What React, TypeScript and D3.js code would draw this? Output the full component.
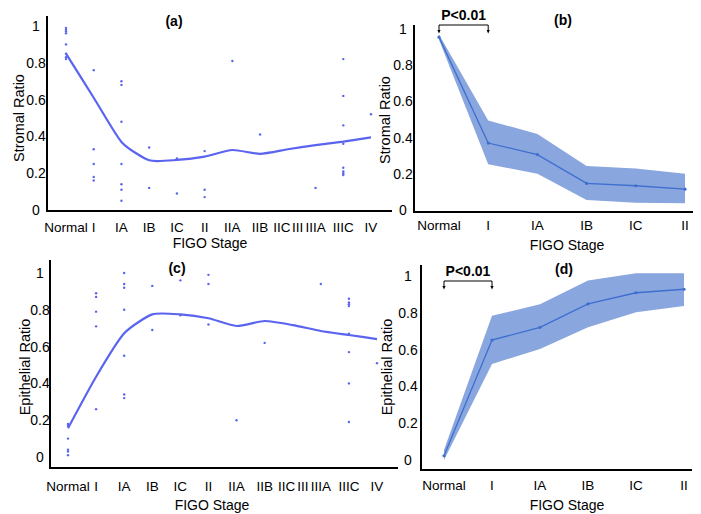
import React from "react";
import * as d3 from "d3";

// x slots used by the scatter panels (III has no samples, its label sits between IIC and IIIA)
const stageSlots = ["Normal", "I", "IA", "IB", "IC", "II", "IIA", "IIB", "IIC", "IIIA", "IIIC", "IV"];
const groupStages = ["Normal", "I", "IA", "IB", "IC", "II"];
const yTicks = [0, 0.2, 0.4, 0.6, 0.8, 1];

// (a) stromal ratio per sample
const stromalSamples: number[][] = [
  [0.99, 0.98, 0.97, 0.96, 0.9, 0.85, 0.83, 0.82],
  [0.76, 0.33, 0.25, 0.18, 0.16],
  [0.7, 0.68, 0.48, 0.25, 0.14, 0.11, 0.05],
  [0.34, 0.12],
  [0.28, 0.09],
  [0.32, 0.11, 0.07],
  [0.81],
  [0.41],
  [],
  [0.12],
  [0.82, 0.62, 0.46, 0.36, 0.23, 0.21, 0.2, 0.19],
  [0.52],
];
const stromalTrend = [0.85, 0.61, 0.37, 0.27, 0.272, 0.29, 0.326, 0.305, 0.33, 0.353, 0.372, 0.395];

// (c) epithelial ratio per sample
const epithelialSamples: number[][] = [
  [0.18, 0.17, 0.1, 0.04, 0.03, 0.01],
  [0.89, 0.87, 0.79, 0.71, 0.26],
  [1.0, 0.94, 0.92, 0.8, 0.55, 0.34, 0.32],
  [0.93, 0.69],
  [0.96, 0.77],
  [0.99, 0.94, 0.72],
  [0.2],
  [0.62],
  [],
  [0.94],
  [0.86, 0.84, 0.83, 0.82, 0.67, 0.57, 0.4, 0.19],
  [0.51],
];
const epithelialTrend = [0.156, 0.436, 0.672, 0.775, 0.775, 0.754, 0.712, 0.739, 0.717, 0.685, 0.663, 0.641];

// (b) / (d) group means with bands
const stromalMean = [0.955, 0.37, 0.306, 0.147, 0.134, 0.115];
const stromalUpper = [0.97, 0.495, 0.42, 0.243, 0.229, 0.2];
const stromalLower = [0.94, 0.253, 0.2, 0.055, 0.04, 0.037];

const epithelialMean = [0.023, 0.652, 0.721, 0.848, 0.909, 0.928];
const epithelialUpper = [0.054, 0.784, 0.846, 0.975, 1.015, 1.015];
const epithelialLower = [0.0, 0.522, 0.603, 0.721, 0.803, 0.837];

const FONT = "'Liberation Sans', Arial, sans-serif";
const scatterColor = "#5a64ef";
const bandColor = "#89a6de";
const meanColor = "#3e6fcf";

type Box = { axisX: number; axisTop: number; axisRight: number; baseY: number; tickX: number; y0: number; y1: number; x0: number; x1: number; tickLabelY: number; xLabelY: number; xLabelX: number; yLabelX: number; yLabelY: number; titleX: number; titleY: number };

const Axes = ({ b, yScale, title, yLabel }: { b: Box; yScale: d3.ScaleLinear<number, number>; title: string; yLabel: string }) => (
  <g>
    <line x1={b.axisX} x2={b.axisX} y1={b.axisTop} y2={b.baseY} stroke="#000" strokeWidth={2} />
    <line x1={b.axisX - 1} x2={b.axisRight} y1={b.baseY} y2={b.baseY} stroke="#000" strokeWidth={2} />
    {yTicks.map((t) => (
      <text key={t} x={b.tickX} y={yScale(t)} textAnchor="middle" dominantBaseline="central" fontSize={14}>
        {t === 0 || t === 1 ? String(t) : t.toFixed(1)}
      </text>
    ))}
    <text x={b.titleX} y={b.titleY} textAnchor="middle" dominantBaseline="central" fontSize={14} fontWeight="bold">{title}</text>
    <text transform={`translate(${b.yLabelX},${b.yLabelY}) rotate(-90)`} textAnchor="middle" dominantBaseline="central" fontSize={14.5}>{yLabel}</text>
    <text x={b.xLabelX} y={b.xLabelY} textAnchor="middle" dominantBaseline="central" fontSize={14}>FIGO Stage</text>
  </g>
);

const ScatterPanel = ({ b, samples, trend, title, yLabel }: { b: Box; samples: number[][]; trend: number[]; title: string; yLabel: string }) => {
  const x = d3.scalePoint().domain(stageSlots).range([b.x0, b.x1]);
  const y = d3.scaleLinear().domain([0, 1]).range([b.y0, b.y1]);
  const line = d3.line<number>().x((_, i) => x(stageSlots[i])!).y((d) => y(d)).curve(d3.curveCardinal.tension(0.4));
  // crowded labels at the III end: squeeze III in front of IIIA
  const labelX = (s: string) => (s === "IIC" ? x(s)! - 6 : x(s)!);
  const iiiX = x("IIIA")! - 18;
  return (
    <g>
      <Axes b={b} yScale={y} title={title} yLabel={yLabel} />
      {samples.map((vals, i) =>
        vals.map((v, j) => <circle key={`${i}-${j}`} cx={x(stageSlots[i])} cy={y(v)} r={1.2} fill={scatterColor} />)
      )}
      <path d={line(trend) || ""} fill="none" stroke={scatterColor} strokeWidth={2.2} />
      {stageSlots.map((s) => (
        <text key={s} x={labelX(s)} y={b.tickLabelY} textAnchor="middle" dominantBaseline="central" fontSize={13.5}>{s}</text>
      ))}
      <text x={iiiX} y={b.tickLabelY} textAnchor="middle" dominantBaseline="central" fontSize={13.5}>III</text>
    </g>
  );
};

const BandPanel = ({ b, mean, upper, lower, title, yLabel, bracketY }: { b: Box; mean: number[]; upper: number[]; lower: number[]; title: string; yLabel: string; bracketY: number }) => {
  const x = d3.scalePoint().domain(groupStages).range([b.x0, b.x1]);
  const y = d3.scaleLinear().domain([0, 1]).range([b.y0, b.y1]);
  const area = d3.area<number>().x((_, i) => x(groupStages[i])!).y0((_, i) => y(lower[i])).y1((d) => y(d));
  const line = d3.line<number>().x((_, i) => x(groupStages[i])!).y((d) => y(d));
  const bx0 = x("Normal")!;
  const bx1 = x("I")!;
  const tick = (cx: number) => (
    <g key={cx}>
      <line x1={cx} x2={cx} y1={bracketY} y2={bracketY + 6} stroke="#000" strokeWidth={1} />
      <path d={`M${cx - 1.6},${bracketY + 5} L${cx + 1.6},${bracketY + 5} L${cx},${bracketY + 8.5} Z`} fill="#000" />
    </g>
  );
  return (
    <g>
      <Axes b={b} yScale={y} title={title} yLabel={yLabel} />
      <path d={area(upper) || ""} fill={bandColor} />
      <path d={line(mean) || ""} fill="none" stroke={meanColor} strokeWidth={1.3} />
      {mean.map((v, i) => <circle key={i} cx={x(groupStages[i])} cy={y(v)} r={1.6} fill={meanColor} />)}
      {groupStages.map((s) => (
        <text key={s} x={x(s)} y={b.tickLabelY} textAnchor="middle" dominantBaseline="central" fontSize={13.5}>{s}</text>
      ))}
      <line x1={bx0} x2={bx1} y1={bracketY} y2={bracketY} stroke="#000" strokeWidth={1} />
      {tick(bx0)}
      {tick(bx1)}
      <text x={(bx0 + bx1) / 2} y={bracketY - 10} textAnchor="middle" dominantBaseline="central" fontSize={14} fontWeight="bold">P&lt;0.01</text>
    </g>
  );
};

const boxA: Box = { axisX: 47, axisTop: 16, axisRight: 392, baseY: 211, tickX: 36, y0: 210, y1: 26, x0: 66, x1: 371, tickLabelY: 227, xLabelX: 210, xLabelY: 243, yLabelX: 19, yLabelY: 118, titleX: 174, titleY: 21 };
const boxB: Box = { axisX: 414, axisTop: 25, axisRight: 693, baseY: 212, tickX: 403, y0: 210, y1: 29, x0: 439, x1: 685, tickLabelY: 225, xLabelX: 567, xLabelY: 245, yLabelX: 385, yLabelY: 120, titleX: 563, titleY: 20 };
const boxC: Box = { axisX: 50, axisTop: 260, axisRight: 398, baseY: 468, tickX: 40, y0: 457, y1: 273, x0: 68, x1: 377, tickLabelY: 486, xLabelX: 212, xLabelY: 505, yLabelX: 25, yLabelY: 367, titleX: 177, titleY: 268 };
const boxD: Box = { axisX: 421, axisTop: 265, axisRight: 692, baseY: 470, tickX: 408, y0: 460, y1: 276, x0: 444, x1: 684, tickLabelY: 485, xLabelX: 567, xLabelY: 505, yLabelX: 387, yLabelY: 367, titleX: 564, titleY: 269 };

export default function App() {
  return (
    <svg width={701} height={514} style={{ position: "absolute", left: 0, top: 0, background: "#fff" }} fontFamily={FONT} fill="#000">
      <ScatterPanel b={boxA} samples={stromalSamples} trend={stromalTrend} title="(a)" yLabel="Stromal Ratio" />
      <BandPanel b={boxB} mean={stromalMean} upper={stromalUpper} lower={stromalLower} title="(b)" yLabel="Stromal Ratio" bracketY={25} />
      <ScatterPanel b={boxC} samples={epithelialSamples} trend={epithelialTrend} title="(c)" yLabel="Epithelial Ratio" />
      <BandPanel b={boxD} mean={epithelialMean} upper={epithelialUpper} lower={epithelialLower} title="(d)" yLabel="Epithelial Ratio" bracketY={281} />
    </svg>
  );
}
